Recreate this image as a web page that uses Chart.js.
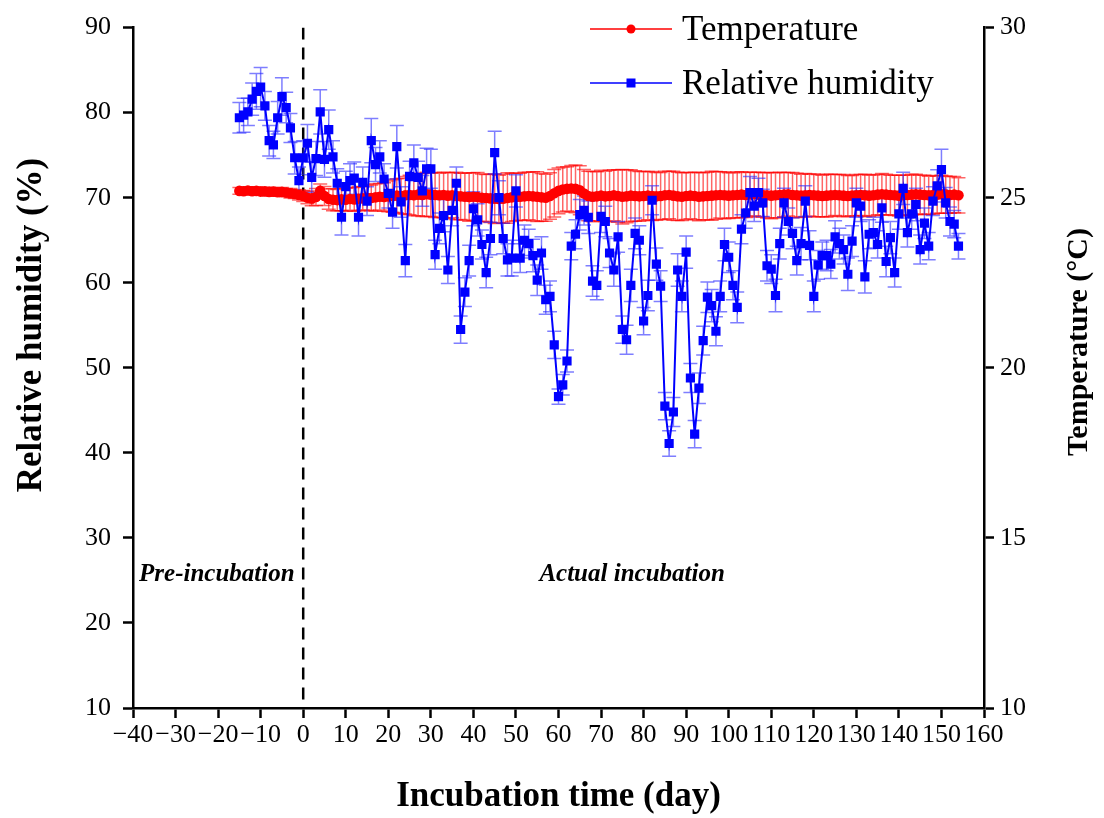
<!DOCTYPE html>
<html>
<head>
<meta charset="utf-8">
<script src="https://cdn.jsdelivr.net/npm/chart.js@4"></script>
<style>
html, body { margin: 0; padding: 0; background: #fff; }
canvas { display: block; }
</style>
</head>
<body>
<canvas id="chart" width="1104" height="818"></canvas>
<script>
const days = [
    -15, -14, -13, -12, -11, -10, -9, -8, -7, -6, -5, -4, -3, -2, -1, 0,
    1, 2, 3, 4, 5, 6, 7, 8, 9, 10,
    11, 12, 13, 14, 15, 16, 17, 18, 19, 20,
    21, 22, 23, 24, 25, 26, 27, 28, 29, 30,
    31, 32, 33, 34, 35, 36, 37, 38, 39, 40,
    41, 42, 43, 44, 45, 46, 47, 48, 49, 50,
    51, 52, 53, 54, 55, 56, 57, 58, 59, 60,
    61, 62, 63, 64, 65, 66, 67, 68, 69, 70,
    71, 72, 73, 74, 75, 76, 77, 78, 79, 80,
    81, 82, 83, 84, 85, 86, 87, 88, 89, 90,
    91, 92, 93, 94, 95, 96, 97, 98, 99, 100,
    101, 102, 103, 104, 105, 106, 107, 108, 109, 110,
    111, 112, 113, 114, 115, 116, 117, 118, 119, 120,
    121, 122, 123, 124, 125, 126, 127, 128, 129, 130,
    131, 132, 133, 134, 135, 136, 137, 138, 139, 140,
    141, 142, 143, 144, 145, 146, 147, 148, 149, 150,
    151, 152, 153, 154
];

// relative humidity (%), left axis
const humidity = [
    79.4, 79.7, 80.1, 81.6, 82.5, 83.0, 80.8, 76.7, 76.2, 79.4, 81.9, 80.6, 78.2, 74.7, 72.0, 74.7,
    76.4, 72.4, 74.6, 80.1, 74.5, 78.0, 74.8, 71.7, 67.7, 71.3,
    72.0, 72.3, 67.7, 71.8, 69.6, 76.7, 73.9, 74.8, 72.2, 70.5,
    68.3, 76.0, 69.5, 62.6, 72.5, 74.1, 72.4, 70.8, 73.4, 73.4,
    63.3, 66.4, 67.9, 61.5, 68.5, 71.7, 54.5, 58.9, 62.6, 68.7,
    67.4, 64.5, 61.2, 65.2, 75.3, 70.0, 65.2, 62.7, 62.9, 70.8,
    62.9, 65.0, 64.6, 63.2, 60.3, 63.5, 58.0, 58.4, 52.7, 46.6,
    48.0, 50.8, 64.3, 65.7, 68.0, 68.5, 67.7, 60.2, 59.7, 67.8,
    67.2, 63.5, 61.5, 65.4, 54.5, 53.3, 59.7, 65.8, 65.0, 55.5,
    58.5, 69.7, 62.2, 59.6, 45.5, 41.1, 44.8, 61.5, 58.4, 63.6,
    48.8, 42.2, 47.6, 53.2, 58.3, 57.3, 54.3, 58.4, 64.5, 63.0,
    59.7, 57.1, 66.3, 68.2, 70.6, 69.0, 70.6, 69.4, 62.0, 61.6,
    58.5, 64.6, 69.4, 67.2, 65.8, 62.6, 64.6, 69.6, 64.4, 58.4,
    62.1, 63.2, 63.2, 62.2, 65.4, 64.6, 63.9, 61.0, 64.9, 69.4,
    69.0, 60.7, 65.7, 65.9, 64.5, 68.8, 62.5, 65.3, 61.2, 68.1,
    71.1, 65.9, 68.1, 69.2, 63.9, 67.0, 64.3, 69.6, 71.4, 73.3,
    69.4, 67.2, 66.9, 64.3
];

const humidityErr = [
    1.8, 2.0, 1.6, 1.9, 2.1, 2.3, 1.7, 1.8, 1.6, 1.9, 2.2, 1.8, 1.7, 1.9, 1.6, 2.0,
    2.2, 1.8, 2.0, 2.6, 2.1, 2.3, 1.9, 1.7, 2.1, 1.8,
    2.0, 1.9, 2.2, 1.8, 1.7, 2.6, 2.0, 1.9, 1.8, 1.7,
    1.9, 2.5, 1.8, 1.9, 1.8, 2.1, 1.9, 1.8, 2.4, 2.3,
    1.7, 1.8, 1.9, 1.6, 1.8, 1.9, 1.6, 1.7, 1.8, 2.0,
    1.9, 1.7, 1.8, 1.9, 2.5, 2.0, 1.8, 1.9, 2.1, 1.9,
    1.7, 1.8, 1.7, 1.9, 1.8, 1.9, 1.7, 1.8, 1.6, 0.9,
    1.2, 1.3, 1.6, 1.7, 1.8, 1.7, 1.9, 1.8, 1.7, 1.9,
    1.8, 1.7, 1.9, 1.8, 1.6, 1.7, 1.9, 1.8, 1.7, 1.6,
    1.8, 1.7, 1.9, 1.8, 1.6, 1.5, 1.7, 1.9, 1.8, 1.9,
    1.7, 1.6, 1.8, 1.7, 1.8, 1.9, 1.7, 1.8, 1.9, 1.8,
    1.7, 1.8, 1.7, 1.8, 1.9, 1.8, 1.7, 1.6, 1.8, 1.7,
    1.9, 1.8, 1.7, 1.6, 1.8, 1.7, 1.9, 1.8, 1.7, 1.8,
    1.7, 1.6, 1.8, 1.7, 1.9, 1.8, 1.7, 1.9, 1.8, 1.7,
    1.8, 1.9, 1.7, 1.8, 1.6, 1.7, 1.8, 1.9, 1.7, 1.8,
    1.9, 1.7, 1.8, 1.9, 1.7, 1.8, 1.6, 1.7, 1.9, 2.4,
    1.8, 1.7, 1.6, 1.5
];

// temperature (°C), right axis
const temperature = [
    25.20, 25.19, 25.21, 25.19, 25.20, 25.18, 25.19, 25.17, 25.18, 25.16, 25.17, 25.15, 25.13, 25.11, 25.08, 25.05,
    25.00, 24.98, 25.02, 25.20, 25.05, 24.96, 24.94, 24.93, 24.95, 24.94,
    24.96, 24.95, 24.97, 24.98, 25.00, 24.99, 25.01, 25.03, 25.02, 25.04,
    25.05, 25.06, 25.05, 25.07, 25.08, 25.07, 25.09, 25.08, 25.10, 25.09,
    25.08, 25.07, 25.08, 25.06, 25.07, 25.05, 25.04, 25.03, 25.02, 25.03,
    25.02, 25.00, 24.99, 24.98, 24.97, 24.96, 24.97, 24.99, 25.01, 25.02,
    25.03, 25.04, 25.05, 25.04, 25.03, 25.01, 25.00, 25.05, 25.13, 25.20,
    25.24, 25.26, 25.27, 25.26, 25.22, 25.12, 25.05, 25.03, 25.04, 25.06,
    25.04, 25.05, 25.07, 25.05, 25.03, 25.04, 25.06, 25.05, 25.04, 25.05,
    25.06, 25.05, 25.04, 25.05, 25.07, 25.08, 25.06, 25.04, 25.03, 25.05,
    25.06, 25.05, 25.03, 25.04, 25.05, 25.06, 25.07, 25.08, 25.07, 25.06,
    25.07, 25.08, 25.09, 25.08, 25.10, 25.11, 25.09, 25.08, 25.07, 25.06,
    25.07, 25.08, 25.09, 25.10, 25.08, 25.07, 25.06, 25.07, 25.08, 25.07,
    25.06, 25.05, 25.06, 25.07, 25.08, 25.07, 25.06, 25.05, 25.06, 25.07,
    25.08, 25.07, 25.06, 25.07, 25.09, 25.10, 25.09, 25.08, 25.07, 25.06,
    25.07, 25.08, 25.09, 25.10, 25.09, 25.08, 25.07, 25.08, 25.09, 25.10,
    25.09, 25.08, 25.09, 25.07
];

const temperatureErr = [
    0.10, 0.09, 0.11, 0.10, 0.12, 0.10, 0.11, 0.13, 0.12, 0.11, 0.13, 0.12, 0.14, 0.13, 0.15, 0.16,
    0.18, 0.22, 0.25, 0.20, 0.28, 0.30, 0.32, 0.31, 0.33, 0.34,
    0.33, 0.35, 0.36, 0.34, 0.37, 0.38, 0.40, 0.39, 0.42, 0.45,
    0.48, 0.50, 0.52, 0.55, 0.58, 0.60, 0.62, 0.63, 0.65, 0.64,
    0.66, 0.65, 0.67, 0.68, 0.66, 0.70, 0.68, 0.69, 0.71, 0.70,
    0.72, 0.70, 0.69, 0.71, 0.73, 0.70, 0.72, 0.74, 0.71, 0.70,
    0.69, 0.71, 0.70, 0.72, 0.73, 0.70, 0.69, 0.68, 0.70, 0.67,
    0.66, 0.65, 0.68, 0.70, 0.72, 0.71, 0.73, 0.74, 0.72, 0.75,
    0.74, 0.76, 0.75, 0.77, 0.80, 0.78, 0.76, 0.74, 0.73, 0.72,
    0.71, 0.72, 0.70, 0.69, 0.71, 0.70, 0.72, 0.71, 0.70, 0.69,
    0.68, 0.70, 0.71, 0.69, 0.70, 0.72, 0.70, 0.68, 0.69, 0.67,
    0.66, 0.68, 0.67, 0.66, 0.65, 0.64, 0.66, 0.65, 0.67, 0.68,
    0.66, 0.67, 0.65, 0.64, 0.66, 0.65, 0.63, 0.64, 0.62, 0.63,
    0.62, 0.61, 0.63, 0.62, 0.60, 0.61, 0.62, 0.60, 0.59, 0.61,
    0.60, 0.62, 0.61, 0.60, 0.59, 0.61, 0.60, 0.58, 0.59, 0.60,
    0.59, 0.58, 0.60, 0.59, 0.57, 0.58, 0.56, 0.57, 0.55, 0.56,
    0.55, 0.54, 0.53, 0.52
];

const serif = '"Liberation Serif", "Times New Roman", serif';

function toPoints(ys) {
    return ys.map((y, i) => ({ x: days[i], y: y }));
}

// vertical error bars with caps, drawn under the points
const errorBars = {
    id: 'errorBars',
    beforeDatasetsDraw(chart) {
        const ctx = chart.ctx;
        const area = chart.chartArea;
        ctx.save();
        ctx.beginPath();
        ctx.rect(area.left, area.top, area.right - area.left, area.bottom - area.top);
        ctx.clip();

        // dashed line at day 0
        const x0 = chart.scales.x.getPixelForValue(0);
        ctx.strokeStyle = '#000';
        ctx.lineWidth = 2.5;
        ctx.setLineDash([12, 8]);
        ctx.beginPath();
        ctx.moveTo(x0, area.top);
        ctx.lineTo(x0, area.bottom);
        ctx.stroke();
        ctx.setLineDash([]);

        for (let d = chart.data.datasets.length - 1; d >= 0; d--) {
            const ds = chart.data.datasets[d];
            if (!ds.errors) continue;
            const meta = chart.getDatasetMeta(d);
            const scale = chart.scales[ds.yAxisID];
            ctx.strokeStyle = ds.errorColor;
            ctx.lineWidth = 1.5;
            meta.data.forEach((pt, i) => {
                const v = ds.data[i].y;
                const top = scale.getPixelForValue(v + ds.errors[i]);
                const bot = scale.getPixelForValue(v - ds.errors[i]);
                ctx.beginPath();
                ctx.moveTo(pt.x, top);
                ctx.lineTo(pt.x, bot);
                ctx.moveTo(pt.x - 7, top);
                ctx.lineTo(pt.x + 7, top);
                ctx.moveTo(pt.x - 7, bot);
                ctx.lineTo(pt.x + 7, bot);
                ctx.stroke();
            });
        }
        ctx.restore();
    }
};

// axis titles, legend and the two phase labels
const decorations = {
    id: 'decorations',
    afterDraw(chart) {
        const ctx = chart.ctx;
        const area = chart.chartArea;
        const xs = chart.scales.x;
        const ys = chart.scales.y;
        ctx.save();
        ctx.fillStyle = '#000';
        ctx.textAlign = 'center';
        ctx.textBaseline = 'middle';

        ctx.font = 'bold 35px ' + serif;
        ctx.fillText('Incubation time (day)', (area.left + area.right) / 2, 797);

        ctx.save();
        ctx.translate(32, 325);
        ctx.rotate(-Math.PI / 2);
        ctx.fillText('Relative humidity (%)', 0, 0);
        ctx.restore();

        ctx.font = 'bold 30px ' + serif;
        ctx.save();
        ctx.translate(1079, 342);
        ctx.rotate(-Math.PI / 2);
        ctx.fillText('Temperature (\u00B0C)', 0, 0);
        ctx.restore();

        ctx.font = 'italic bold 25px ' + serif;
        ctx.fillText('Pre-incubation', xs.getPixelForValue(-20.3), ys.getPixelForValue(25.7));
        ctx.fillText('Actual incubation', xs.getPixelForValue(77.3), ys.getPixelForValue(25.7));

        // legend
        const items = [chart.data.datasets[1], chart.data.datasets[0]];
        ctx.font = '35px ' + serif;
        ctx.textAlign = 'left';
        items.forEach((ds, k) => {
            const y = 29 + k * 54;
            ctx.strokeStyle = ds.borderColor;
            ctx.lineWidth = 1.5;
            ctx.beginPath();
            ctx.moveTo(590, y);
            ctx.lineTo(672, y);
            ctx.stroke();
            ctx.fillStyle = ds.backgroundColor;
            if (ds.pointStyle === 'rect') {
                ctx.fillRect(631 - 4.5, y - 4.5, 9, 9);
            } else {
                ctx.beginPath();
                ctx.arc(631, y, 4.5, 0, Math.PI * 2);
                ctx.fill();
            }
            ctx.fillStyle = '#000';
            ctx.fillText(ds.label, 682, y + 2);
        });
        ctx.restore();
    }
};

const tickFont = { family: serif, size: 26 };
const axisGrid = { drawOnChartArea: false, drawTicks: true, tickLength: 10, tickWidth: 2.5, tickColor: '#000' };
const axisBorder = { display: true, color: '#000', width: 2.5 };

new Chart(document.getElementById('chart').getContext('2d'), {
    type: 'line',
    data: {
        datasets: [
            {
                label: 'Relative humidity',
                data: toPoints(humidity),
                errors: humidityErr,
                errorColor: 'rgba(40, 40, 255, 0.6)',
                yAxisID: 'y',
                borderColor: '#0000ff',
                backgroundColor: '#0000ff',
                borderWidth: 2,
                pointStyle: 'rect',
                pointRadius: 6.5,
                pointBorderWidth: 0,
                tension: 0
            },
            {
                label: 'Temperature',
                data: toPoints(temperature),
                errors: temperatureErr,
                errorColor: 'rgba(255, 0, 0, 0.6)',
                yAxisID: 'y1',
                borderColor: '#ff0000',
                backgroundColor: '#ff0000',
                borderWidth: 1.5,
                pointStyle: 'circle',
                pointRadius: 5.3,
                pointBorderWidth: 0,
                tension: 0
            }
        ]
    },
    options: {
        responsive: false,
        animation: false,
        devicePixelRatio: 1,
        layout: { padding: { top: 22, left: 0, right: 0, bottom: 0 } },
        plugins: {
            legend: { display: false },
            tooltip: { enabled: false }
        },
        scales: {
            x: {
                type: 'linear',
                position: 'bottom',
                min: -40,
                max: 160,
                ticks: {
                    stepSize: 10,
                    autoSkip: false,
                    maxRotation: 0,
                    minRotation: 0,
                    color: '#000',
                    font: tickFont,
                    padding: 2,
                    callback: v => String(v).replace('-', '\u2212')
                },
                grid: axisGrid,
                border: axisBorder,
                afterFit: s => { s.height = 110; }
            },
            y: {
                position: 'left',
                min: 10,
                max: 90,
                ticks: { stepSize: 10, color: '#000', font: tickFont, padding: 12 },
                grid: axisGrid,
                border: axisBorder,
                afterFit: s => { s.width = 133; }
            },
            y1: {
                position: 'right',
                min: 10,
                max: 30,
                ticks: { stepSize: 5, color: '#000', font: tickFont, padding: 6 },
                grid: axisGrid,
                border: axisBorder,
                afterFit: s => { s.width = 120; }
            }
        }
    },
    plugins: [errorBars, decorations]
});
</script>
</body>
</html>
